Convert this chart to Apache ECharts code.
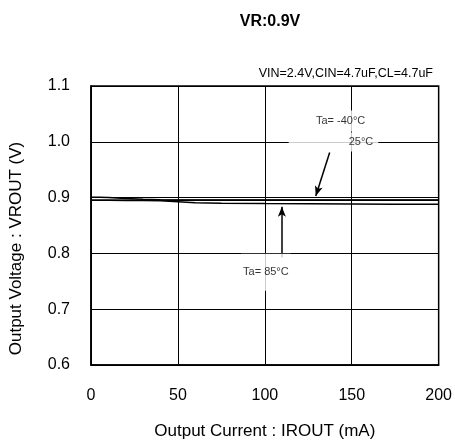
<!DOCTYPE html>
<html>
<head>
<meta charset="utf-8">
<script src="https://cdn.jsdelivr.net/npm/echarts@6/dist/echarts.min.js"></script>
<style>
html,body{margin:0;padding:0;background:#fff;}
#c{width:455px;height:445px;}
</style>
</head>
<body>
<div id="c"></div>
<script>
// ---- data ----
var current = [0, 5, 10, 20, 30, 40, 50, 60, 75, 100, 125, 150, 175, 200];
var vTaM40 = [0.9007, 0.9005, 0.9000, 0.8985, 0.8970, 0.8962, 0.8958, 0.8957, 0.8957, 0.8956, 0.8956, 0.8956, 0.8956, 0.8956];
var vTa25  = [0.8954, 0.8954, 0.8954, 0.8954, 0.8954, 0.8954, 0.8953, 0.8953, 0.8953, 0.8953, 0.8953, 0.8953, 0.8953, 0.8953];
var vTa85  = [0.8953, 0.8953, 0.8952, 0.8950, 0.8948, 0.8942, 0.8925, 0.8908, 0.8900, 0.8893, 0.8888, 0.8885, 0.8882, 0.8880];
var xTicks = [0, 50, 100, 150, 200];
var yTicks = [0.6, 0.7, 0.8, 0.9, 1.0, 1.1];

var titleText = 'VR:0.9V';
var condText = 'VIN=2.4V,CIN=4.7uF,CL=4.7uF';
var xName = 'Output Current : IROUT (mA)';
var yName = 'Output Voltage : VROUT (V)';

// annotation anchors (data units)
var lblM40 = [139, 1.0372];
var lbl25 = [139.5, 0.9995];
var lbl85 = [100.6, 0.7661];
var arrow1 = [[137.3, 0.9807], [129.3, 0.9030]];
var arrow2 = [[109.8, 0.7925], [109.8, 0.8837]];

function pairs(xs, ys){ return xs.map(function(x,i){ return [x, ys[i]]; }); }

var FONT = '"Liberation Sans", Arial, sans-serif';
var chart = echarts.init(document.getElementById('c'), null, {renderer:'canvas'});

function lineSeries(name, ys){
  return {
    name: name, type: 'line', data: pairs(current, ys),
    showSymbol: false, smooth: false,
    lineStyle: {color:'#000', width: 1.5},
    z: 3, animation: false
  };
}

var option = {
  backgroundColor: '#fff',
  animation: false,
  title: [
    {text: titleText, left: 265, textAlign: 'center', top: 9,
     textStyle:{fontFamily: FONT, fontSize: 16, fontWeight:'bold', color:'#000'}},
    {text: condText, right: 17, top: 62,
     textStyle:{fontFamily: FONT, fontSize: 12.5, fontWeight:'normal', color:'#000'}}
  ],
  grid: {left: 91, right: 13, top: 86, bottom: 74, show: true, borderColor:'#000', borderWidth: 1.5, containLabel:false},
  xAxis: {
    type: 'value', min: xTicks[0], max: xTicks[xTicks.length-1], interval: 50,
    name: xName, nameLocation: 'middle', nameGap: 58,
    nameTextStyle: {fontFamily: FONT, fontSize: 17, color:'#000'},
    axisLine: {show:true, lineStyle:{color:'#000', width:1.5}},
    axisTick: {show:false},
    axisLabel: {fontFamily: FONT, fontSize: 16, color:'#000', margin: 23},
    splitLine: {show:true, lineStyle:{color:'#000', width:1}}
  },
  yAxis: {
    type: 'value', min: yTicks[0], max: yTicks[yTicks.length-1], interval: 0.1,
    name: yName, nameLocation: 'middle', nameGap: 66, nameRotate: 90,
    nameTextStyle: {fontFamily: FONT, fontSize: 17, color:'#000', padding:[0,46,0,0]},
    axisLine: {show:true, lineStyle:{color:'#000', width:1.5}},
    axisTick: {show:false},
    axisLabel: {fontFamily: FONT, fontSize: 16, color:'#000', margin: 21,
      formatter: function(v){ return v.toFixed(1); }},
    splitLine: {show:true, lineStyle:{color:'#000', width:1}}
  },
  series: [
    lineSeries('Ta=-40', vTaM40),
    lineSeries('Ta=25', vTa25),
    lineSeries('Ta=85', vTa85),
    {
      type: 'scatter', symbolSize: 0, z: 5, silent: true,
      data: [
        {value: lblM40, label:{show:true, position:'inside', formatter:'Ta= -40°C',
          fontFamily: FONT, fontSize: 11, color:'#000', backgroundColor:'#fff',
          padding:[6,13,4,29]}},
        {value: lbl25, label:{show:true, position:'inside', formatter:'25°C',
          fontFamily: FONT, fontSize: 11, color:'#000', backgroundColor:'#fff',
          padding:[5,5,3,60]}},
        {value: lbl85, label:{show:true, position:'inside', formatter:'Ta= 85°C',
          fontFamily: FONT, fontSize: 11, color:'#000', backgroundColor:'#fff',
          padding:[14,2,12,2]}}
      ],
      markLine: {
        silent: true, symbol: ['none','arrow'], symbolSize: [6,10],
        label:{show:false},
        lineStyle:{color:'#000', width:1.5, type:'solid'},
        data: [
          [{coord: arrow1[0]}, {coord: arrow1[1]}],
          [{coord: arrow2[0]}, {coord: arrow2[1]}]
        ]
      }
    }
  ]
};
chart.setOption(option);
</script>
</body>
</html>
